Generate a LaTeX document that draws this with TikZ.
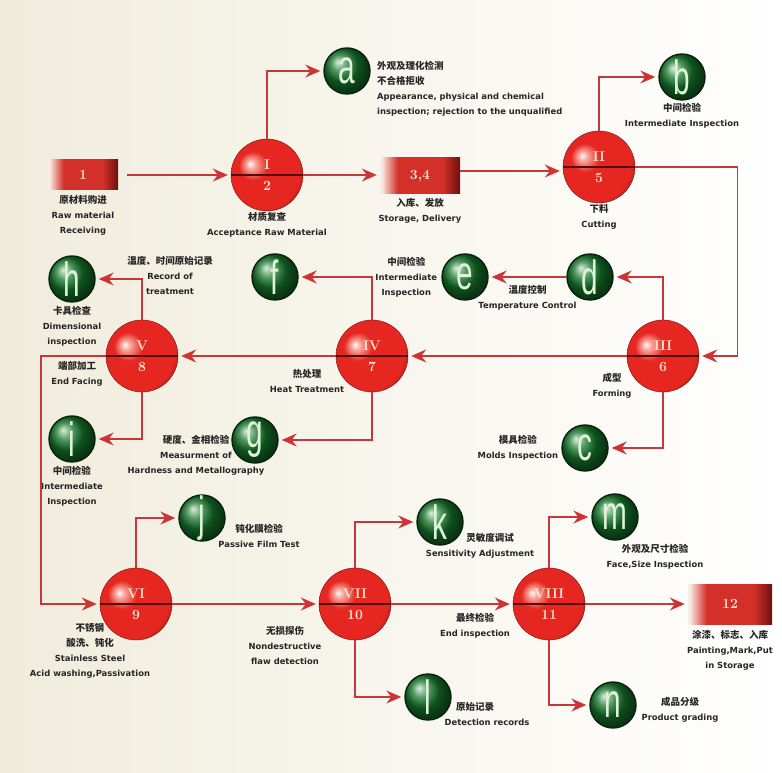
\documentclass[tikz,border=0pt]{standalone}
\usepackage{fontspec}
\usetikzlibrary{arrows.meta,positioning}

\newfontfamily\lblfam{DejaVu Sans}
\newfontfamily\cjk{Noto Sans CJK SC}
\newfontfamily\lettfam{Liberation Sans}[FakeStretch=0.62]
\newcommand\zh[1]{{\cjk\fontsize{9.5}{15}\selectfont #1}}

\definecolor{linered}{RGB}{200,55,55}
\definecolor{tipred}{RGB}{222,45,45}
\definecolor{ballred}{RGB}{230,38,32}
\definecolor{ballhi}{RGB}{250,170,160}
\definecolor{inspgreen}{RGB}{22,118,42}
\definecolor{lettercol}{RGB}{222,242,215}
\definecolor{numcol}{RGB}{250,232,205}
\definecolor{boxlight}{RGB}{248,236,228}
\definecolor{boxred}{RGB}{212,48,42}
\definecolor{boxdark}{RGB}{110,15,15}
\definecolor{paper}{RGB}{240,236,220}
\pgfdeclarehorizontalshading{boxshade}{100bp}{color(0bp)=(boxlight); color(26bp)=(boxlight);
  color(36bp)=(boxred); color(64bp)=(boxred); color(75bp)=(boxdark); color(100bp)=(boxdark)}
\pgfdeclareradialshading{redball}{\pgfpoint{-12bp}{8bp}}{color(0bp)=(white); color(3bp)=(ballhi);
  color(10bp)=(ballred); color(28bp)=(ballred); color(36bp)=(ballred!55!black); color(50bp)=(ballred!55!black)}

\begin{document}
\begin{tikzpicture}[x=1pt, y=1pt,
  ball/.style={circle, minimum size=72pt, inner sep=0pt, shading=redball,
               draw=ballred!50!black, line width=0.4pt,
               font=\bfseries\fontsize{14}{21}\selectfont, text=numcol, align=center,
               path picture={\draw[ballred!35!black, line width=1.6pt]
                 (path picture bounding box.west) -- (path picture bounding box.east);}},
  insp/.style={circle, minimum size=46pt, inner sep=0pt, shading=ball,
               ball color=inspgreen, draw=inspgreen!30!black, line width=1.4pt,
               font=\lettfam\fontsize{48}{48}\selectfont, text=lettercol},
  stage/.style={rectangle, minimum width=70pt, minimum height=30pt,
                shading=boxshade, shading angle=0,
                font=\bfseries\fontsize{14}{16}\selectfont, text=numcol},
  lbl/.style={font=\lblfam\bfseries\fontsize{8.4}{15}\selectfont, align=center,
              inner sep=1pt, text=black!85},
  a/.style={draw=linered, line width=1.4pt, shorten >=3pt,
            -{Stealth[length=15pt, width=13pt, inset=5pt, fill=tipred]}}
]
\useasboundingbox (0,0) rectangle (782,772);
\shade[left color=paper, right color=white] (0,0) rectangle (782,772);

% ---------------- top row ----------------
\node[stage] (box1) at (83,597) {1};
\node[lbl, below=4pt of box1] (lbox1) {\zh{原材料购进}\\Raw material\\Receiving};
\node[ball] (ball12) at (267,597) {I\\2};
\node[lbl, below=0pt of ball12] (lball12) {\zh{材质复查}\\Acceptance Raw Material};
\node[insp] (ca) at (347,701) {a};
\node[lbl, anchor=north west, align=left] (lca) at (376,712)
  {\zh{外观及理化检测}\\\zh{不合格拒收}\\Appearance, physical and chemical\\inspection; rejection to the unqualified};
\node[stage, minimum width=80pt, minimum height=36pt] (box34) at (420,596) {3,4};
\node[lbl, below=3pt of box34] (lbox34) {\zh{入库、发放}\\Storage, Delivery};
\node[ball] (ball25) at (599,605) {II\\5};
\node[lbl, below=0pt of ball25] (lball25) {\zh{下料}\\Cutting};
\node[insp] (cb) at (682,695) {b};
\node[lbl, below=1pt of cb] (lcb) {\zh{中间检验}\\Intermediate Inspection};

% ---------------- middle row ----------------
\node[ball] (ball36) at (663,416) {III\\6};
\node[lbl] (lball36) at (612,386) {\zh{成型}\\Forming};
\node[insp] (cc) at (585,324) {c};
\node[lbl, left=2pt of cc] (lcc) {\zh{模具检验}\\Molds Inspection};
\node[insp] (cd) at (590,495) {d};
\node[insp] (ce) at (465,495) {e};
\node[lbl, left=3pt of ce] (lce) {\zh{中间检验}\\Intermediate\\Inspection};
\node[ball] (ball47) at (372,416) {IV\\7};
\node[lbl] (lball47) at (307,391) {\zh{热处理}\\Heat Treatment};
\node[insp] (cf) at (275,495) {f};
\node[insp] (cg) at (255,332) {g};
\node[lbl] (lcg) at (196,317) {\zh{硬度、金相检验}\\Measurment of\\Hardness and Metallography};
\node[ball] (ball58) at (142,416) {V\\8};
\node[lbl] (lball58) at (77,398) {\zh{端部加工}\\End Facing};
\node[insp] (ch) at (72,493) {h};
\node[lbl, below=2pt of ch] (lch) {\zh{卡具检查}\\Dimensional\\inspection};
\node[lbl] (lrec) at (170,497) {\zh{温度、时间原始记录}\\Record of\\treatment};
\node[insp] (ci) at (72,333) {i};
\node[lbl, below=2pt of ci] (lci) {\zh{中间检验}\\Intermediate\\Inspection};

% ---------------- bottom row ----------------
\node[ball] (ball69) at (136,168) {VI\\9};
\node[lbl] (lball69) at (90,121) {\zh{不锈钢}\\\zh{酸洗、钝化}\\Stainless Steel\\Acid washing,Passivation};
\node[insp] (cj) at (202,254) {j};
\node[lbl] (lcj) at (259,236) {\zh{钝化膜检验}\\Passive Film Test};
\node[ball] (ball710) at (355,168) {VII\\10};
\node[lbl] (lball710) at (285,127) {\zh{无损探伤}\\Nondestructive\\flaw detection};
\node[insp] (ck) at (440,250) {k};
\node[lbl] (lck) at (480,226) {\hspace*{20pt}\zh{灵敏度调试}\\Sensitivity Adjustment};
\node[insp] (cl) at (428,75) {l};
\node[lbl] (lcl) at (487,58) {\zh{原始记录}\hspace*{24pt}\\Detection records};
\node[ball] (ball811) at (549,168) {VIII\\11};
\node[lbl] (lball811) at (475,146) {\zh{最终检验}\\End inspection};
\node[insp] (cm) at (615,255) {m};
\node[lbl] (lcm) at (655,215) {\zh{外观及尺寸检验}\\Face,Size Inspection};
\node[stage, minimum width=84pt, minimum height=40pt] (box12) at (730,168) {12};
\node[lbl, below=5pt of box12] (lbox12) {\zh{涂漆、标志、入库}\\Painting,Mark,Put\\in Storage};
\node[insp] (cn) at (613,67) {n};
\node[lbl] (lcn) at (680,62) {\zh{成品分级}\\Product grading};

% ---------------- arrows ----------------
\draw[a, shorten <=9pt] (box1) -- (ball12);
\draw[a] (ball12.north) |- (ca.west);
\draw[a] (ball12.east) -- (ball12.east -| box34.west);
\draw[a] ([yshift=5pt]box34.east) -- ([yshift=5pt]box34.east -| ball25.west);
\draw[a] (ball25.north) |- (cb.west);
\draw[a] (ball25.east) -- ++(102,0) |- (ball36.east);
\draw[a] (ball36.south) |- (cc.east);
\draw[a] (ball36.north) |- (cd.east);
\draw[a] (cd) -- node[lbl, below=7pt]{\zh{温度控制}\\Temperature Control} (ce);
\draw[a] (ball36) -- (ball47);
\draw[a] (ball47.north) |- (cf.east);
\draw[a] (ball47.south) |- (cg.east);
\draw[a] (ball47) -- (ball58);
\draw[a] (ball58.north) |- (ch.east);
\draw[a] (ball58.south) |- (ci.east);
\draw[a] (ball58.west) -- ++(-65,0) |- (ball69.west);
\draw[a] (ball69.north) |- (cj.west);
\draw[a] (ball69) -- (ball710);
\draw[a] (ball710.north) |- (ck.west);
\draw[a] (ball710.south) |- (cl.west);
\draw[a] (ball710) -- (ball811);
\draw[a] (ball811.north) |- (cm.west);
\draw[a] (ball811.south) |- (cn.west);
\draw[a] (ball811) -- (box12);
\end{tikzpicture}
\end{document}
